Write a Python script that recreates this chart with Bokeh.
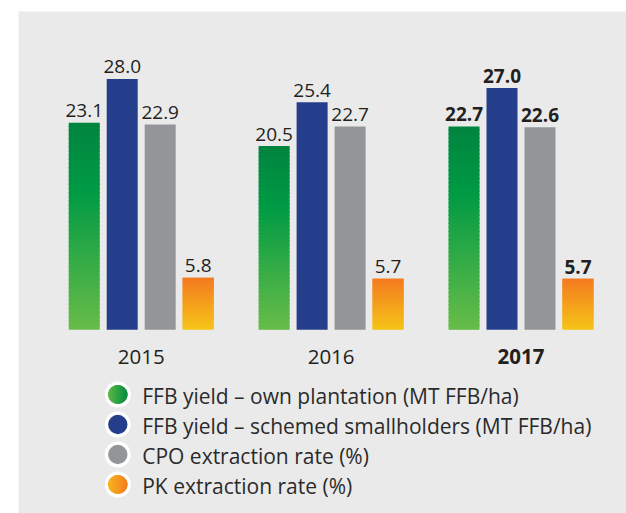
import numpy as np
from bokeh.plotting import figure
from bokeh.models import Range1d, ColumnDataSource
from bokeh.core.properties import value
from bokeh.embed import file_html
from bokeh.resources import INLINE

# ---------------- data ----------------
years = ["2015", "2016", "2017"]
ffb_own = [23.1, 20.5, 22.7]
ffb_smallholders = [28.0, 25.4, 27.0]
cpo_rate = [22.9, 22.7, 22.6]
pk_rate = [5.8, 5.7, 5.7]
series_names = [
    "FFB yield \u2013 own plantation (MT FFB/ha)",
    "FFB yield \u2013 schemed smallholders (MT FFB/ha)",
    "CPO extraction rate (%)",
    "PK extraction rate (%)",
]
highlight_year = "2017"

# ---------------- styles ----------------
BG = "#eaeaea"
TXT = "#231f20"
green_stops = [(0.0, "#00843f"), (0.33, "#009a44"), (1.0, "#68bd48")]   # top -> bottom
blue = "#243e8b"
gray = "#939598"
orange_stops = [(0.0, "#f47a20"), (1.0, "#f5c518")]                     # top -> bottom
green_leg = [(0.0, "#62bb47"), (1.0, "#008a40")]                         # left -> right
orange_leg = [(0.0, "#f6b81c"), (1.0, "#f47b20")]

W, H = 626, 513
LEFT, TOP = 18, 11
FW, FH = W - LEFT, H - TOP
XS = 189.9          # px per group
YS = 8.96           # px per value unit
ZERO_X = 140.7 - LEFT   # frame px of first group centre
ZERO_Y = 329.3 - TOP    # frame px (from top) of value 0
BASE_FIX = -6           # svg baseline correction (px)

x_start = -ZERO_X / XS
y_end = ZERO_Y / YS


def hex2rgb(h):
    h = h.lstrip("#")
    return np.array([int(h[i:i + 2], 16) for i in (0, 2, 4)], dtype=float)


def interp(stops, t):
    for (t0, c0), (t1, c1) in zip(stops[:-1], stops[1:]):
        if t <= t1:
            f = 0 if t1 == t0 else (t - t0) / (t1 - t0)
            c = hex2rgb(c0) * (1 - f) + hex2rgb(c1) * f
            return "#%02x%02x%02x" % tuple(int(round(v)) for v in c)
    return stops[-1][1]


p = figure(width=W, height=H, output_backend="svg", toolbar_location=None,
           x_range=Range1d(x_start, x_start + FW / XS),
           y_range=Range1d(y_end - FH / YS, y_end),
           x_axis_location=None, y_axis_location=None,
           min_border_left=LEFT, min_border_top=TOP,
           min_border_right=0, min_border_bottom=0)
p.background_fill_color = BG
p.border_fill_color = "white"
p.outline_line_color = None
p.grid.visible = False

offsets = [-0.3, -0.1, 0.1, 0.3]
bw = 31 / XS
series = [ffb_own, ffb_smallholders, cpo_rate, pk_rate]
fills = [green_stops, blue, gray, orange_stops]
gx = np.arange(len(years))

N = 50
OVER = 1.3 / YS
for vals, off, fill in zip(series, offsets, fills):
    xs = gx + off
    if isinstance(fill, str):
        p.vbar(x=xs, top=vals, bottom=0, width=bw, fill_color=fill, line_color=None)
    else:
        X, T, B, C = [], [], [], []
        for x, v in zip(xs, vals):
            for k in range(N):
                b = v * k / N
                t = min(v, v * (k + 1) / N + OVER)
                X.append(x); B.append(b); T.append(t)
                C.append(interp(fill, 1 - (k + 0.5) / N))
        src = ColumnDataSource(dict(x=X, top=T, bottom=B, c=C))
        p.vbar(x="x", top="top", bottom="bottom", width=bw, fill_color="c",
               line_color=None, source=src)

# value labels
for vals, off in zip(series, offsets):
    for i, (yr, v) in enumerate(zip(years, vals)):
        p.text(x=[gx[i] + off], y=[v], text=[f"{v:.1f}"],
               text_align="center", text_baseline="alphabetic", y_offset=-6 + BASE_FIX,
               text_font=value("Open Sans"), text_font_size="19px",
               text_font_style="bold" if yr == highlight_year else "normal",
               text_color=TXT)

# category labels
for i, yr in enumerate(years):
    p.text(x=[gx[i]], y=[0], text=[yr], text_align="center",
           text_baseline="alphabetic", y_offset=33 + BASE_FIX,
           text_font=value("Open Sans"), text_font_size="20.5px",
           text_font_style="bold" if yr == highlight_year else "normal",
           text_color=TXT)

# legend (custom)
leg_cx = (117.3 - 140.7) / XS
leg_tx = (141.7 - 140.7) / XS
leg_fills = [green_leg, blue, gray, orange_leg]
R = 9.7
for i, (name, fill) in enumerate(zip(series_names, leg_fills)):
    cy = -(394 + 30 * i - 329.3) / YS
    p.scatter(x=[leg_cx], y=[cy], size=26, fill_color="white", line_color=None)
    if isinstance(fill, str):
        p.scatter(x=[leg_cx], y=[cy], size=2 * R, fill_color=fill, line_color=None)
    else:
        p.scatter(x=[leg_cx], y=[cy], size=2 * R - 0.5,
                  fill_color=interp(fill, 0.5), line_color=None)
        n = 26
        sw = 2 * R / n
        X, Y, Wd, Hd, C = [], [], [], [], []
        for j in range(n):
            dx = -R + (j + 0.5) * sw
            h = 2 * np.sqrt(max(R * R - dx * dx, 0))
            X.append(leg_cx + dx / XS); Y.append(cy)
            Wd.append(sw + 0.3); Hd.append(h - 0.6)
            C.append(interp(fill, (j + 0.5) / n))
        src = ColumnDataSource(dict(x=X, y=Y, w=Wd, h=Hd, c=C))
        p.rect(x="x", y="y", width="w", height="h", width_units="screen",
               height_units="screen", fill_color="c", line_color=None, source=src)
    p.text(x=[leg_tx], y=[cy], text=[name], text_align="left",
           text_baseline="alphabetic", y_offset=7 + BASE_FIX,
           text_font=value("Open Sans"), text_font_size="21px", text_color="#2a2a2a")

open("out.html", "w").write(file_html(p, INLINE))
